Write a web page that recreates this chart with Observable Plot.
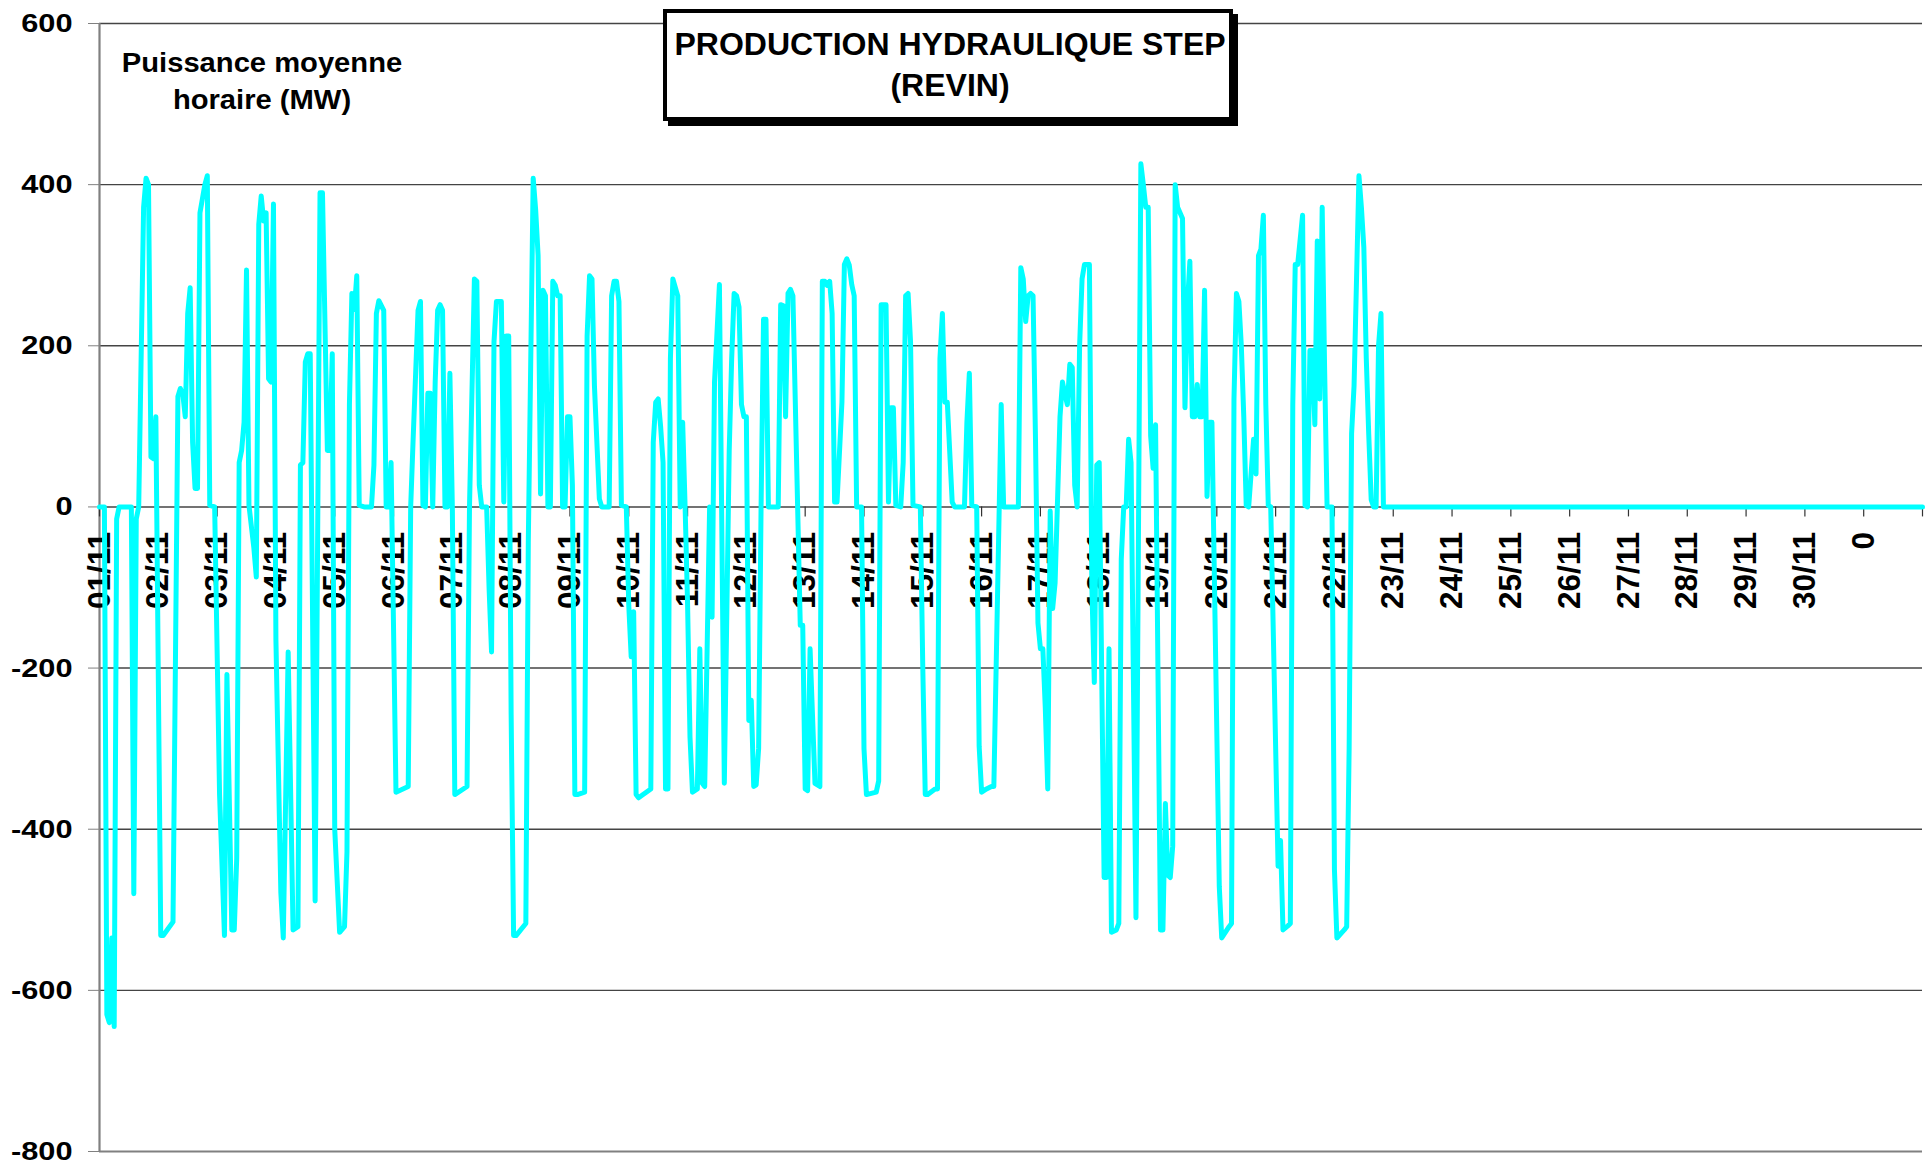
<!DOCTYPE html>
<html>
<head>
<meta charset="utf-8">
<script src="https://cdn.jsdelivr.net/npm/d3@7"></script>
<script src="https://cdn.jsdelivr.net/npm/@observablehq/plot@0.6"></script>
<style>
  html, body { margin: 0; padding: 0; background: #fff; }
  #wrap { position: relative; width: 1930px; height: 1170px; font-family: "Liberation Sans", Arial, sans-serif; }
  #titlebox { position: absolute; left: 663px; top: 9px; width: 570px; height: 112px; box-sizing: border-box;
    border: 4.5px solid #000; box-shadow: 5px 5px 0 #000; background: #fff; }
  #title { position: absolute; left: 650px; top: 24px; width: 600px; text-align: center; font-weight: bold;
    font-size: 32px; line-height: 41px; color: #000; white-space: nowrap; }
  #ylabel { position: absolute; left: 112px; top: 45px; width: 300px; text-align: center; font-weight: bold;
    font-size: 27px; line-height: 37px; color: #000; white-space: nowrap; transform: scaleX(1.08); transform-origin: 50% 50%; }
</style>
</head>
<body>
<div id="wrap">
  <div id="chart"></div>
  <div id="titlebox"></div>
  <div id="title">PRODUCTION HYDRAULIQUE STEP<br>(REVIN)</div>
  <div id="ylabel">Puissance moyenne<br>horaire (MW)</div>
</div>
<script>
// Tick labels (one per day, hour index = position * 24)
const dayLabels = ["01/11","02/11","03/11","04/11","05/11","06/11","07/11","08/11","09/11","10/11",
  "11/11","12/11","13/11","14/11","15/11","16/11","17/11","18/11","19/11","20/11",
  "21/11","22/11","23/11","24/11","25/11","26/11","27/11","28/11","29/11","30/11","0"];
const yTicks = [-800, -600, -400, -200, 0, 200, 400, 600];

// Hourly average power (MW): [hour of day, MW] per day
const d01 = [[0,0],[2,0],[3,-630],[4,-640],[5,-535],[6,-645],[7,-15],[8,0],[13,0],[14,-480],[15,-15],[16,0],[18,372],[19,408],[20,400],[21,62],[22,60],[23,112]];
const d02 = [[1,-532],[2,-532],[6,-515],[8,137],[9,147],[10,140],[11,112],[12,240],[13,272],[14,80],[15,23],[16,23],[17,365],[19,400],[20,411],[21,2],[23,0]];
const d03 = [[1,-357],[3,-532],[4,-208],[6,-525],[7,-525],[8,-436],[9,55],[10,70],[11,105],[12,294],[13,2],[15,-51],[16,-87],[17,351],[18,386],[19,355],[20,365],[21,159],[22,155],[23,376]];
const d04 = [[0,-165],[2,-478],[3,-535],[5,-180],[7,-525],[9,-521],[10,52],[11,55],[12,180],[13,190],[14,190],[16,-489],[18,390],[19,390],[21,70],[22,70],[23,190]];
const d05 = [[0,-400],[2,-528],[4,-521],[5,-428],[6,127],[7,265],[8,245],[9,287],[10,2],[12,0],[15,0],[16,52],[17,240],[18,256],[20,244],[21,0],[22,0],[23,55]];
const d06 = [[1,-354],[6,-347],[7,0],[8,84],[10,244],[11,255],[12,2],[13,0],[14,141],[15,141],[16,0],[17,155],[18,244],[19,251],[20,244],[21,0],[22,0],[23,166]];
const d07 = [[0,0],[1,-357],[6,-347],[7,0],[9,283],[10,280],[11,27],[12,0],[14,0],[15,-101],[16,-180],[17,205],[18,255],[20,255],[21,6],[22,212],[23,212]];
const d08 = [[0,-258],[1,-532],[2,-532],[6,-517],[7,-44],[9,408],[10,369],[11,312],[12,16],[13,269],[14,262],[15,0],[16,0],[17,280],[18,275],[19,262],[20,262],[21,0],[22,0],[23,112]];
const d09 = [[0,112],[1,27],[2,-357],[3,-357],[6,-354],[7,212],[8,287],[9,283],[10,150],[12,10],[13,0],[16,0],[17,262],[18,280],[19,280],[20,255],[21,2],[23,0]];
const d10 = [[0,-122],[1,-186],[2,-130],[3,-357],[4,-361],[9,-350],[10,80],[11,130],[12,134],[13,100],[14,55],[15,-350],[16,-350],[17,184],[18,283],[20,262],[21,0],[22,105],[23,0]];
const d11 = [[0,-120],[1,-286],[2,-354],[4,-350],[5,-176],[6,-343],[7,-347],[9,0],[10,-137],[11,155],[13,276],[15,-343],[17,70],[18,184],[19,265],[20,262],[21,248],[22,127],[23,112]];
const d12 = [[0,112],[1,-265],[2,-240],[3,-347],[4,-345],[5,-300],[6,0],[7,233],[8,233],[9,0],[13,0],[14,251],[15,250],[16,112],[17,265],[18,270],[19,262],[22,-147],[23,-147]];
const d13 = [[0,-350],[1,-352],[2,-176],[4,-343],[6,-347],[7,280],[8,280],[9,275],[10,280],[11,240],[12,6],[13,6],[15,130],[16,301],[17,308],[18,300],[19,276],[20,262],[21,0],[23,0]];
const d14 = [[0,-300],[1,-357],[5,-354],[6,-340],[7,251],[8,251],[9,251],[10,6],[11,123],[12,123],[13,2],[15,0],[16,55],[17,262],[18,265],[19,205],[20,2],[23,0]];
const d15 = [[0,-200],[1,-357],[2,-357],[5,-350],[6,-350],[7,184],[8,240],[9,130],[10,130],[12,6],[13,0],[17,0],[18,105],[19,166],[20,2],[22,0],[23,-297]];
const d16 = [[0,-354],[2,-350],[4,-347],[5,-347],[8,127],[9,0],[15,0],[16,297],[17,283],[18,230],[19,262],[20,265],[21,262],[22,84],[23,-144]];
const d17 = [[0,-176],[1,-176],[2,-250],[3,-350],[4,-5],[5,-126],[6,-94],[8,112],[9,155],[10,140],[11,127],[12,177],[13,173],[14,27],[15,0],[16,200],[17,283],[18,301],[20,301],[21,-100],[22,-218],[23,52]];
const d18 = [[0,55],[2,-460],[3,-460],[4,-176],[5,-528],[7,-525],[8,-517],[9,-65],[10,0],[11,0],[12,84],[13,55],[15,-510],[17,426],[18,400],[19,372],[20,372],[21,88],[22,48],[23,102]];
const d19 = [[1,-525],[2,-525],[3,-368],[4,-457],[5,-460],[6,-421],[7,400],[8,372],[10,358],[11,123],[12,250],[13,305],[14,112],[15,112],[16,152],[17,112],[18,112],[19,269],[20,13],[21,105],[22,105]];
const d20 = [[1,-471],[2,-535],[5,-521],[6,-517],[7,134],[8,265],[9,255],[10,200],[11,112],[12,2],[13,0],[15,84],[16,41],[17,312],[18,320],[19,362],[20,127],[21,2],[22,0]];
const d21 = [[1,-446],[2,-414],[3,-525],[5,-520],[6,-517],[7,127],[8,301],[9,301],[11,362],[12,2],[13,0],[14,194],[15,194],[16,102],[17,330],[18,134],[19,372],[20,170],[21,0],[23,0]];
const d22 = [[0,-450],[1,-535],[4,-525],[5,-521],[6,-300],[7,91],[8,150],[10,411],[11,372],[12,322],[13,184],[14,90],[15,9],[16,0],[17,0],[18,200],[19,240],[20,0]];
// From 23/11 to the end of the month the plant is idle: [hour index, MW]
const idleTail = [[528, 0], [744, 0]];

const days = [d01,d02,d03,d04,d05,d06,d07,d08,d09,d10,d11,d12,d13,d14,d15,d16,d17,d18,d19,d20,d21,d22];
const series = days.flatMap((d, i) => d.map(([h, v]) => ({hour: i * 24 + h, mw: v})))
  .concat(idleTail.map(([h, v]) => ({hour: h, mw: v})));

const labelTable = dayLabels.map((t, i) => ({hour: i * 24, label: t}));
const tickHours = dayLabels.map((_, i) => i * 24).concat([dayLabels.length * 24]);
const gridValues = yTicks.filter(v => v > -800);

const chart = Plot.plot({
  width: 1930,
  height: 1170,
  marginLeft: 99,
  marginRight: 8,
  marginTop: 23,
  marginBottom: 19,
  style: {fontFamily: "'Liberation Sans', Arial, sans-serif", background: "transparent", color: "#000"},
  x: {domain: [0, dayLabels.length * 24], axis: null},
  y: {domain: [-800, 600], axis: null},
  marks: [
    Plot.ruleY(gridValues, {stroke: "#444", strokeWidth: 1.4}),
    Plot.ruleY([-800], {stroke: "#808080", strokeWidth: 2}),
    Plot.ruleX([0], {stroke: "#808080", strokeWidth: 2.2}),
    Plot.axisY({ticks: yTicks, tickSize: 11, tickPadding: 16, fontSize: 26.5, fontWeight: "bold",
      stroke: "#808080", fill: "#000", label: null, tickFormat: d => String(d)}),
    Plot.ruleX(tickHours, {y1: 0, y2: 0, insetBottom: -10, stroke: "#333", strokeWidth: 1.2}),
    Plot.text(labelTable, {x: "hour", y: 0, text: "label", rotate: -90, textAnchor: "end", lineAnchor: "middle",
      dy: 25, fontSize: 31.5, fontWeight: "bold", fill: "#000"}),
    Plot.line(series, {x: "hour", y: "mw", stroke: "#00FFFF", strokeWidth: 5, strokeLinejoin: "round", strokeLinecap: "round"})
  ]
});
// widen the y tick labels horizontally like the original rendering
chart.querySelectorAll('g[aria-label="y-axis tick label"] text').forEach(t => {
  t.setAttribute("transform", (t.getAttribute("transform") || "") + " scale(1.16,1)");
});
document.getElementById("chart").appendChild(chart);
</script>
</body>
</html>
